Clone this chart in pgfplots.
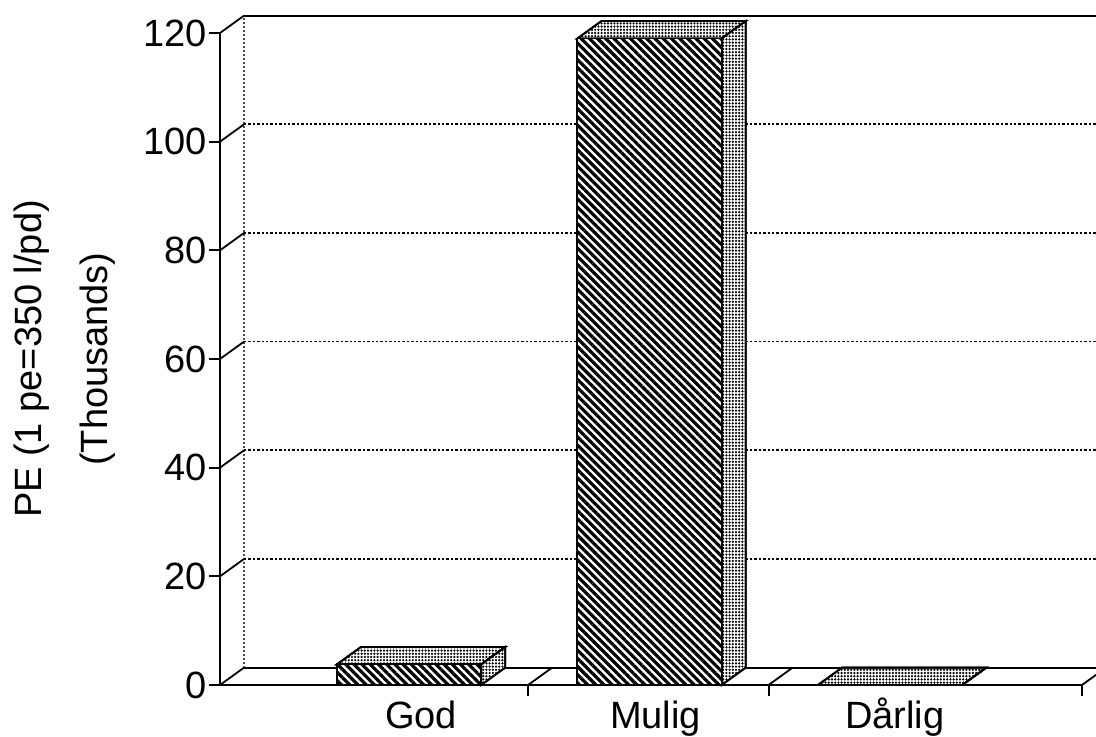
\documentclass[border=0pt]{standalone}
\usepackage{pgfplots}
\pgfplotsset{compat=1.18}
\usepackage{pgfplotstable}
\usepackage{fontspec}
\setmainfont{Liberation Sans}
\usetikzlibrary{patterns.meta}

\pgfplotstableread{
x v
1 3.8
2 119
3 0
}\data

\begin{document}
\begin{tikzpicture}
\begin{axis}[name=ax, scale only axis, width=431pt, height=326pt,
  xmin=0.2141, xmax=3.798, ymin=0, ymax=120, clip=false,
  axis x line*=bottom, axis y line*=left,
  axis line style={line width=1.1pt, black},
  tick align=outside, tick style={line width=0.9pt, black},
  major tick length=5.5pt,
  ytick={0,20,...,120},
  xtick={1.495,2.495,3.798}, xticklabels={},
  extra x ticks={1.05,2.025,3.02},
  extra x tick labels={God,Mulig,Dårlig},
  extra x tick style={major tick length=0pt, tick style={draw=none}},
  /pgf/number format/assume math mode=true,
  ticklabel style={font=\fontsize{19}{22}\selectfont},
  yticklabel style={xshift=2.5pt},
  xticklabel style={text height=13.7pt, text depth=4pt, yshift=-4.5pt},
  ylabel={PE (1 pe=350 l/pd)\\(Thousands)},
  ylabel style={align=center, font=\fontsize{19}{33}\selectfont,
    at={(axis description cs:-0.1798,0.5)}, anchor=center},
  face/.style={draw=black, line width=0.9pt, fill=white,
    postaction={pattern={Dots[distance=1.6pt,radius=0.62pt]}, pattern color=black}},
]
% back wall and floor
\draw[line width=1.1pt] (axis cs:0.3141,123.2) -- (axis cs:3.898,123.2);
\draw[black!70, line width=0.7pt, dash pattern=on 1pt off 1pt] (axis cs:0.3141,3.2) -- (axis cs:0.3141,123.2);
\pgfplotsinvokeforeach{20,40,60,80,100}{
  \draw[line width=0.8pt, dash pattern=on 1.2pt off 1pt] (axis cs:0.3141,#1+3.2) -- (axis cs:3.898,#1+3.2);
}
\pgfplotsinvokeforeach{0,20,40,60,80,100,120}{
  \draw[line width=0.9pt] (axis cs:0.2141,#1) -- (axis cs:0.3141,#1+3.2);
}
\draw[line width=1pt] (axis cs:0.3141,3.2) -- (axis cs:3.898,3.2);
\pgfplotsinvokeforeach{1.495,2.495,3.798}{
  \draw[line width=0.9pt] (axis cs:#1,0) -- (axis cs:#1+0.1,3.2);
}
% top and side faces of the bars
\pgfplotsinvokeforeach{0,1,2}{
  \pgfplotstablegetelem{#1}{x}\of\data \pgfmathsetmacro\cx{\pgfplotsretval}
  \pgfplotstablegetelem{#1}{v}\of\data \pgfmathsetmacro\cv{\pgfplotsretval}
  \pgfmathsetmacro\xa{\cx-0.3}\pgfmathsetmacro\xb{\cx-0.2}
  \pgfmathsetmacro\xc{\cx+0.3}\pgfmathsetmacro\xd{\cx+0.4}
  \pgfmathsetmacro\vt{\cv+3.2}
  \edef\doit{%
    \noexpand\addplot[face] coordinates {(\xa,\cv) (\xb,\vt) (\xd,\vt) (\xc,\cv)} -- cycle;
    \noexpand\addplot[face] coordinates {(\xc,0) (\xd,3.2) (\xd,\vt) (\xc,\cv)} -- cycle;}
  \doit
}
% front faces
\addplot[ybar, bar width=0.6, bar shift=0pt, draw=black, line width=0.9pt, fill=white,
  postaction={pattern={Lines[angle=-45,distance=2.9pt,line width=1.6pt]}, pattern color=black}]
  table[x=x, y=v] {\data};
\end{axis}
\pgfresetboundingbox
\path[use as bounding box] ([xshift=-110pt,yshift=-26pt]ax.south west) rectangle ++(548pt,368.5pt);
\end{tikzpicture}
\end{document}
